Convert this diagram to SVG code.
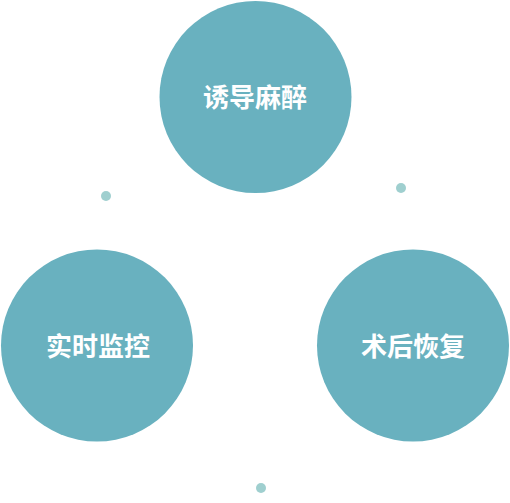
<svg xmlns="http://www.w3.org/2000/svg" width="510" height="503" viewBox="0 0 510 503">
<style>
.node circle{fill:#69B1BF}
.node text{fill:#fff;font-family:"Noto Sans CJK SC","Noto Sans",sans-serif;font-weight:bold;font-size:26px;text-anchor:middle;dominant-baseline:central}
.dot{fill:#9FCFCF}
</style>
<rect width="510" height="503" fill="#fff"/>
<g id="connectors">
<circle class="dot" cx="106" cy="196" r="5"/>
<circle class="dot" cx="401" cy="188" r="5"/>
<circle class="dot" cx="261" cy="488" r="5"/>
</g>
<g id="node-induction" class="node">
<circle cx="255.5" cy="97" r="96"/>
<text x="255" y="95">诱导麻醉</text>
</g>
<g id="node-monitor" class="node">
<circle cx="97" cy="345.5" r="96"/>
<text x="98" y="344.5">实时监控</text>
</g>
<g id="node-recovery" class="node">
<circle cx="413" cy="345.5" r="96"/>
<text x="413" y="344.5">术后恢复</text>
</g>
</svg>
